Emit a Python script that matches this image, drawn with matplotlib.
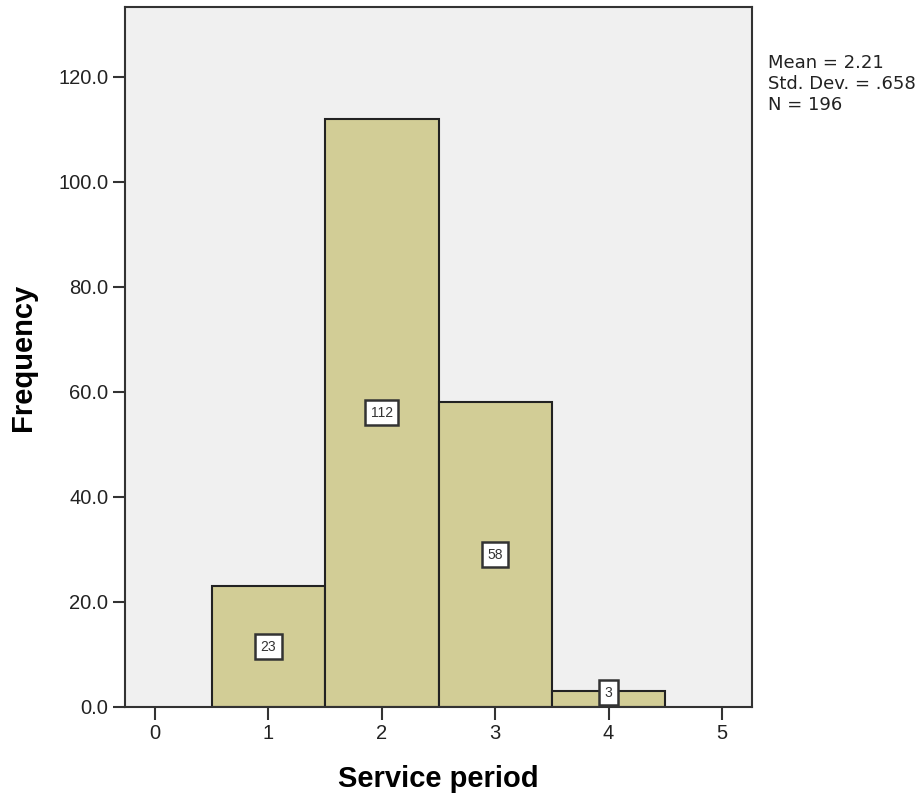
import matplotlib
matplotlib.use("Agg")
import matplotlib.pyplot as plt
import numpy as np

plt.rcParams['font.family'] = ['Liberation Sans', 'DejaVu Sans']

bin_centers = [1, 2, 3, 4]
frequencies = [23, 112, 58, 3]
x_ticks = [0, 1, 2, 3, 4, 5]
y_ticks = [0, 20, 40, 60, 80, 100, 120]
stats_lines = ["Mean = 2.21", "Std. Dev. = .658", "N = 196"]

fig = plt.figure(figsize=(9.21, 7.98), dpi=100)
ax = fig.add_axes([125/921, 91/798, (752-125)/921, (707-7)/798])
ax.set_facecolor('#F0F0F0')

ax.bar(bin_centers, frequencies, width=1.0, color='#D2CD96', edgecolor='#222222', linewidth=1.5, zorder=2)
for x, f in zip(bin_centers, frequencies):
    ax.text(x, max(f / 2, 2.75), str(f), ha='center', va='center', fontsize=10, color='#333333', zorder=3,
            bbox=dict(boxstyle='square,pad=0.4', facecolor='white', edgecolor='#333333', linewidth=1.8))

ax.set_xlim(-0.265, 5.265)
ax.set_ylim(0, 133.3)
ax.set_xticks(x_ticks)
ax.set_yticks(y_ticks)
ax.set_yticklabels([f"{v:.1f}" for v in y_ticks])
ax.tick_params(axis='both', direction='out', length=9, width=1.5, color='#333333', labelsize=14.5, labelcolor='#222222')
ax.tick_params(axis='x', pad=3)
ax.tick_params(axis='y', pad=3)
for s in ax.spines.values():
    s.set_linewidth(1.5)
    s.set_color('#333333')

ax.set_xlabel('Service period', fontsize=21, fontweight='bold', labelpad=16)
ax.set_ylabel('Frequency', fontsize=21, fontweight='bold', labelpad=15)

for i, line in enumerate(stats_lines):
    fig.text(768/921, 1 - (68 + 21 * i)/798, line, fontsize=13, va='baseline', ha='left',
             color='#222222', family='DejaVu Sans')

fig.savefig('out.png', dpi=100)
